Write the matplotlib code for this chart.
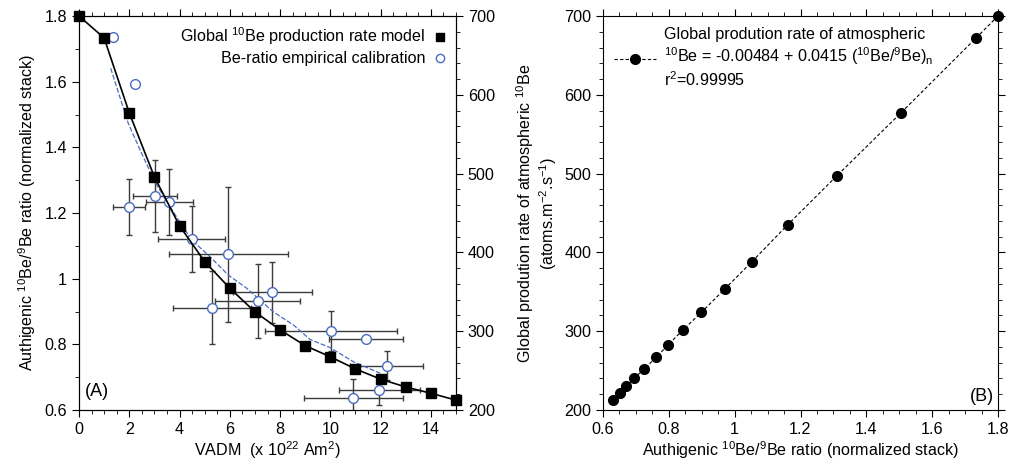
import matplotlib
matplotlib.use("Agg")
import matplotlib.pyplot as plt
from matplotlib.ticker import MultipleLocator, FormatStrFormatter
from matplotlib.lines import Line2D

plt.rcParams['font.family'] = ['Liberation Sans', 'DejaVu Sans']
plt.rcParams['mathtext.fontset'] = 'custom'
plt.rcParams['mathtext.rm'] = 'Liberation Sans'
plt.rcParams['mathtext.it'] = 'Liberation Sans:italic'
plt.rcParams['mathtext.bf'] = 'Liberation Sans:bold'
FS = 11.6
plt.rcParams['font.size'] = FS

# ---- data: global 10Be production rate model ----
model_vadm = [0, 1, 2, 3, 4, 5, 6, 7, 8, 9, 10, 11, 12, 13, 14, 15]
model_ratio = [1.800, 1.733, 1.505, 1.310, 1.161, 1.052, 0.971, 0.899,
               0.844, 0.796, 0.762, 0.725, 0.694, 0.670, 0.651, 0.630]
prod_rate = [700, 672, 577, 497, 435, 388, 354, 324,
             302, 282, 267, 252, 240, 230, 221, 213]

# ---- data: Be-ratio empirical calibration ----
emp_vadm = [1.34, 2.23, 2.00, 3.02, 3.59, 4.48, 5.94, 5.28, 7.11, 7.69,
            10.03, 11.42, 12.24, 11.95, 10.92]
emp_ratio = [1.737, 1.592, 1.219, 1.252, 1.233, 1.120, 1.074, 0.912, 0.932, 0.958,
             0.841, 0.815, 0.735, 0.661, 0.636]
emp_xerr = [0, 0, 0.63, 0.87, 0.93, 1.34, 2.36, 1.55, 1.69, 1.57,
            2.61, 1.46, 1.45, 1.60, 1.96]
emp_yerr = [0, 0, 0.085, 0.11, 0.10, 0.10, 0.205, 0.11, 0.112, 0.092,
            0.06, 0, 0.045, 0.046, 0.057]

# ---- data: smoothed calibration curve (blue dashed) ----
curve_vadm = [1.26, 1.96, 2.49, 3.02, 3.62, 4.48, 5.21, 5.94, 6.67, 7.73,
              8.53, 9.19, 9.99, 10.92, 11.98]
curve_ratio = [1.641, 1.473, 1.382, 1.295, 1.219, 1.118, 1.067, 1.011, 0.971, 0.899,
               0.859, 0.815, 0.790, 0.747, 0.712]

blue = '#4a6cc0'
W, H = 1011, 468
fig = plt.figure(figsize=(W / 100, H / 100), dpi=100)

def rect(x0, x1, y0, y1):
    return [x0 / W, 1 - y1 / H, (x1 - x0) / W, (y1 - y0) / H]

# ================= Panel A =================
ax = fig.add_axes(rect(79, 456, 16, 410))
ax.plot(curve_vadm, curve_ratio, color=blue, lw=0.9, ls=(0, (4, 1.5)), zorder=2)
ax.errorbar(emp_vadm, emp_ratio, xerr=emp_xerr, yerr=emp_yerr, fmt='none',
            ecolor='#3c3c3c', elinewidth=1.0, capsize=2.2, capthick=1.0, zorder=1)
ax.plot(model_vadm, model_ratio, color='black', lw=1.2, marker='s', ms=7,
        mfc='black', mec='black', zorder=4, clip_on=False)
ax.plot(emp_vadm, emp_ratio, ls='none', marker='o', ms=7, mfc='white',
        mec=blue, mew=1.0, zorder=3)
ax.set_xlim(0, 15)
ax.set_ylim(0.6, 1.8)
ax.xaxis.set_major_locator(MultipleLocator(2))
ax.xaxis.set_minor_locator(MultipleLocator(0.5))
ax.yaxis.set_major_locator(MultipleLocator(0.2))
ax.yaxis.set_minor_locator(MultipleLocator(0.1))
ax.yaxis.set_major_formatter(FormatStrFormatter('%g'))
ax.tick_params(which='both', direction='out', top=True, labelsize=FS)
ax.tick_params(which='major', length=5)
ax.tick_params(which='minor', length=3)
ax.set_xlabel('VADM  (x 10$^{22}$ Am$^{2}$)', fontsize=FS, labelpad=2)
ax.set_ylabel('Authigenic $^{10}$Be/$^{9}$Be ratio (normalized stack)', fontsize=FS, labelpad=5)
ax.text(0.25, 0.643, '(A)', fontsize=13)

ax2 = ax.twinx()
ax2.set_ylim(200, 700)
ax2.yaxis.set_major_locator(MultipleLocator(100))
ax2.yaxis.set_minor_locator(MultipleLocator(20))
ax2.tick_params(which='both', direction='out', labelsize=FS)
ax2.tick_params(which='major', length=5)
ax2.tick_params(which='minor', length=3)

h1 = Line2D([], [], ls='none', marker='s', ms=6, mfc='black', mec='black')
h2 = Line2D([], [], ls='none', marker='o', ms=6, mfc='white', mec=blue)
ax.legend([h1, h2], ['Global $^{10}$Be production rate model', 'Be-ratio empirical calibration'],
          loc='upper right', markerfirst=False, frameon=False, fontsize=FS,
          handlelength=0.8, handletextpad=0.5, labelspacing=0.25,
          borderaxespad=0.2, bbox_to_anchor=(1.0, 1.0))

# ================= Panel B =================
bx = fig.add_axes(rect(603, 998, 16, 410))
bx.plot(model_ratio, prod_rate, color='black', lw=0.8, ls=(0, (3, 2)),
        marker='o', ms=7, mfc='black', mec='black', clip_on=False, zorder=3)
bx.set_xlim(0.6, 1.8)
bx.set_ylim(200, 700)
bx.xaxis.set_major_locator(MultipleLocator(0.2))
bx.xaxis.set_minor_locator(MultipleLocator(0.05))
bx.xaxis.set_major_formatter(FormatStrFormatter('%g'))
bx.yaxis.set_major_locator(MultipleLocator(100))
bx.yaxis.set_minor_locator(MultipleLocator(20))
bx.tick_params(which='both', direction='out', top=True, right=True, labelsize=FS)
bx.tick_params(which='major', length=5)
bx.tick_params(which='minor', length=3)
bx.set_xlabel('Authigenic $^{10}$Be/$^{9}$Be ratio (normalized stack)', fontsize=FS, labelpad=2)
bx.set_ylabel('Global prodution rate of atmospheric $^{10}$Be\n(atoms.m$^{-2}$.s$^{-1}$)',
              fontsize=FS, labelpad=4, linespacing=1.05)
bx.text(1.715, 212, '(B)', fontsize=13)

hb = Line2D([], [], color='black', lw=0.8, ls=(0, (3, 2)), marker='o', ms=7, mfc='black')
bx.legend([hb], ['Global prodution rate of atmospheric\n'
                 '$^{10}$Be = -0.00484 + 0.0415 ($^{10}$Be/$^{9}$Be)$_{\\mathrm{n}}$\n'
                 'r$^{2}$=0.99995'],
          loc='upper left', frameon=False, fontsize=FS, handlelength=2.6,
          handletextpad=0.5, borderaxespad=0.3, bbox_to_anchor=(0.0, 1.0))

fig.savefig('out.png', dpi=100)
